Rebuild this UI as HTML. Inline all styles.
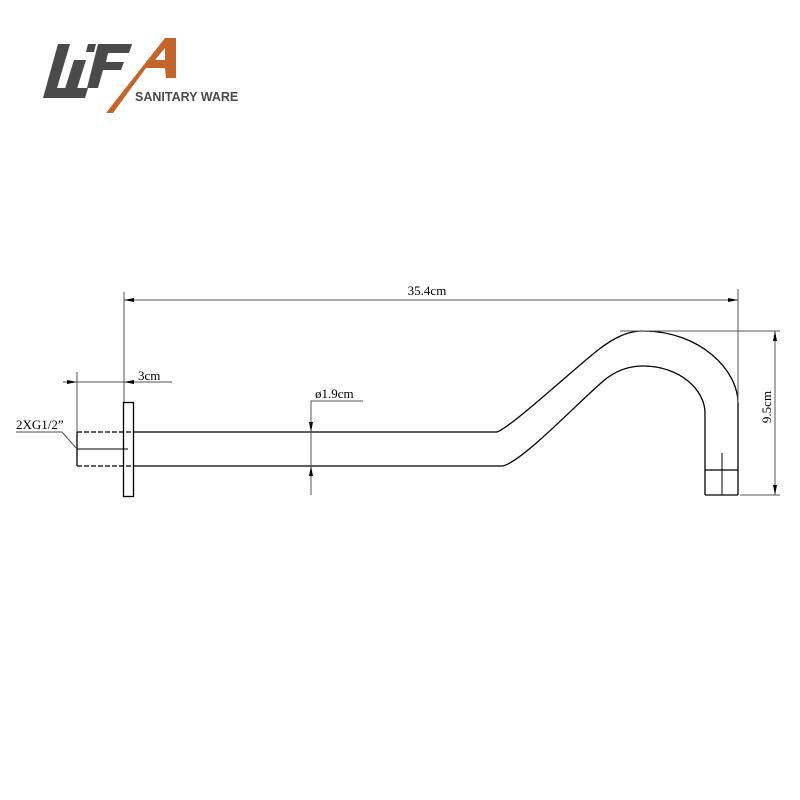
<!DOCTYPE html>
<html><head><meta charset="utf-8"><style>
html,body{margin:0;padding:0;background:#fff;}
svg{display:block}
</style></head><body>
<svg width="800" height="800" viewBox="0 0 800 800" xmlns="http://www.w3.org/2000/svg">
<!-- Logo -->
<g>
<polygon points="58,44 70,44 57,88 88,88 85,98 43,98" fill="#4a4a4a"/>
<polygon points="74,60 86,60 76,92 64,92" fill="#4a4a4a"/>
<polygon points="88,44 96,44 94,52 86,52" fill="#4a4a4a"/>
<polygon points="98,44 132,44 129,53 108,53 106,62 124,62 121,70 103,70 98,88 87,88" fill="#4a4a4a"/>
<polygon points="165,38 176,38 176,78 166,78 165,68 146,68 113,113 106,113" fill="#c4642a"/>
<polygon points="165,48 165,60 155,60" fill="#fff"/>
<text x="135" y="101" font-family="Liberation Sans, sans-serif" font-size="12.5" font-weight="bold" fill="#4a4a4a">SANITARY WARE</text>
</g>
<g fill="none" stroke="#000" stroke-width="1.3">
<rect x="123.5" y="402.5" width="10" height="94"/>
<line x1="77" y1="432" x2="77" y2="466"/>
<line x1="77" y1="432" x2="133" y2="432" stroke-dasharray="5,2"/>
<line x1="77" y1="466" x2="133" y2="466" stroke-dasharray="5,2"/>
<line x1="77" y1="449" x2="128" y2="449" stroke-width="1"/>
<path d="M133,432 L497,432 C510,428 575,368 598,350 C615,337 628,331 643,331 C700,331 738,370 738,403 L738,495"/>
<path d="M133,466 L503,466 C525,460 585,395 607,378 C618,370 630,366 643,366 C680,366 705,390 705,413 L705,495"/>
<line x1="705" y1="470" x2="738" y2="470"/>
<line x1="705" y1="495" x2="738" y2="495"/>
<line x1="722" y1="453" x2="722" y2="495" stroke-width="1"/>
</g>
<g fill="none" stroke="#555" stroke-width="1">
<line x1="124" y1="292" x2="124" y2="402"/>
<line x1="738" y1="289" x2="738" y2="403"/>
<line x1="124" y1="300" x2="738" y2="300"/>
<line x1="63" y1="382" x2="172" y2="382"/>
<line x1="77" y1="372" x2="77" y2="432"/>
<line x1="124" y1="372" x2="124" y2="402"/>
<polyline points="363,401 311,401 311,495"/>
<line x1="620" y1="331" x2="780" y2="331"/>
<line x1="740" y1="495" x2="780" y2="495"/>
<line x1="775" y1="331" x2="775" y2="495"/>
<polyline points="16,432 62,432 77,449"/>
</g>
<g fill="#000">
<polygon points="124,300 134,298 134,302"/>
<polygon points="738,300 728,298 728,302"/>
<polygon points="77,382 67,380 67,384"/>
<polygon points="124,382 134,380 134,384"/>
<polygon points="311,432 309,422 313,422"/>
<polygon points="311,466 309,476 313,476"/>
<polygon points="775,331 773,341 777,341"/>
<polygon points="775,495 773,485 777,485"/>
</g>
<g font-family="Liberation Serif, serif" font-size="13" fill="#000">
<text x="427" y="295" text-anchor="middle">35.4cm</text>
<text x="138" y="380">3cm</text>
<text x="315" y="398">ø1.9cm</text>
<text x="16" y="429">2XG1/2”</text>
<text transform="translate(771,407) rotate(-90)" text-anchor="middle">9.5cm</text>
</g>
</svg>
</body></html>
